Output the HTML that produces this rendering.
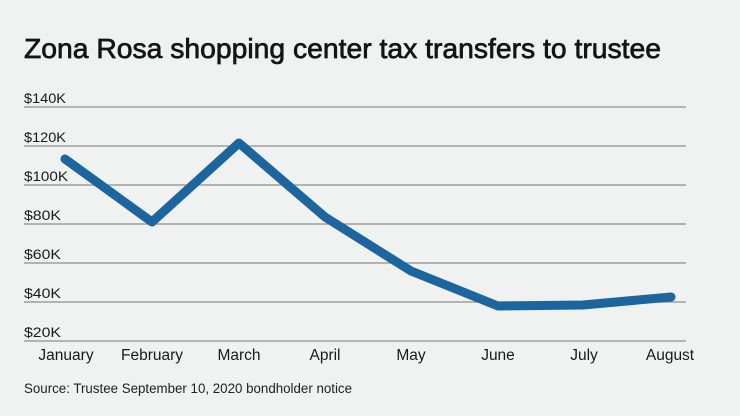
<!DOCTYPE html>
<html><head><meta charset="utf-8"><style>
html,body{margin:0;padding:0;background:#f0f1f1;}
svg{display:block;}
</style></head><body>
<svg width="740" height="416" viewBox="0 0 740 416" xmlns="http://www.w3.org/2000/svg">
<rect width="740" height="416" fill="#f0f1f1"/>
<text x="24" y="58" font-family="Liberation Sans, sans-serif" font-size="27.5" font-weight="normal" fill="#151515" stroke="#151515" stroke-width="0.7" textLength="637" lengthAdjust="spacingAndGlyphs">Zona Rosa shopping center tax transfers to trustee</text>
<g stroke="#8e8e8e" stroke-width="1.2">
<line x1="24" y1="107" x2="686" y2="107"/>
<line x1="24" y1="146" x2="686" y2="146"/>
<line x1="24" y1="185" x2="686" y2="185"/>
<line x1="24" y1="224" x2="686" y2="224"/>
<line x1="24" y1="263" x2="686" y2="263"/>
<line x1="24" y1="302" x2="686" y2="302"/>
<line x1="24" y1="341" x2="686" y2="341"/>
</g>
<g font-family="Liberation Sans, sans-serif" font-size="14" fill="#1a1a1a">
<text x="24" y="103" textLength="42" lengthAdjust="spacingAndGlyphs">$140K</text>
<text x="24" y="142" textLength="42" lengthAdjust="spacingAndGlyphs">$120K</text>
<text x="24" y="181" textLength="44" lengthAdjust="spacingAndGlyphs">$100K</text>
<text x="24" y="220" textLength="37" lengthAdjust="spacingAndGlyphs">$80K</text>
<text x="24" y="259" textLength="37" lengthAdjust="spacingAndGlyphs">$60K</text>
<text x="24" y="298" textLength="37" lengthAdjust="spacingAndGlyphs">$40K</text>
<text x="24" y="337" textLength="37" lengthAdjust="spacingAndGlyphs">$20K</text>
</g>
<polyline points="65,159 152,222 239,143 325,217 411,271 498,306 583,305 671,297" fill="none" stroke="#1d659f" stroke-width="9" stroke-linejoin="round" stroke-linecap="round"/>
<g font-family="Liberation Sans, sans-serif" font-size="15.5" fill="#1a1a1a" text-anchor="middle">
<text x="66" y="360">January</text>
<text x="152" y="360">February</text>
<text x="239" y="360">March</text>
<text x="325" y="360">April</text>
<text x="411" y="360">May</text>
<text x="498" y="360">June</text>
<text x="584" y="360">July</text>
<text x="670" y="360">August</text>
</g>
<text x="24" y="393" font-family="Liberation Sans, sans-serif" font-size="13.5" fill="#1f1f1f" textLength="328" lengthAdjust="spacingAndGlyphs">Source: Trustee September 10, 2020 bondholder notice</text>
</svg>
</body></html>
